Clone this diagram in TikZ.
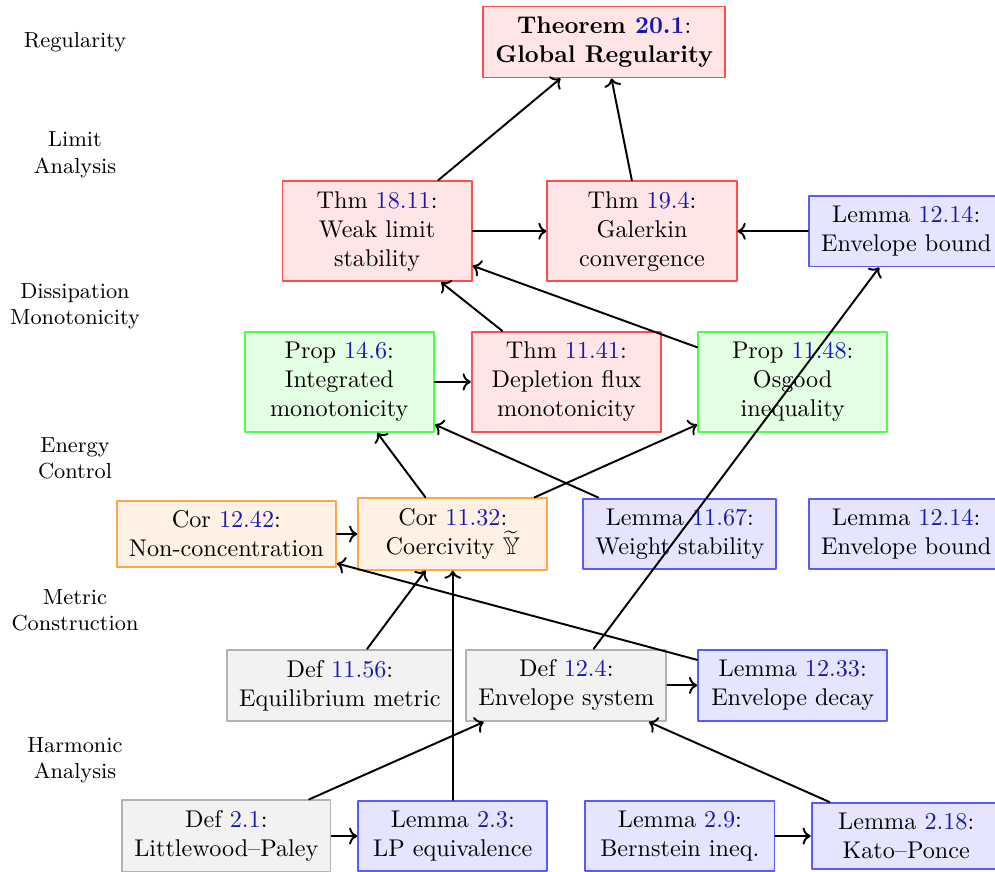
\documentclass[tikz,border=0pt]{standalone}
\usepackage{amsmath,amssymb}
\usepackage{xcolor}
\usepackage{tikz}
\usetikzlibrary{arrows.meta,positioning}
\definecolor{linkblue}{rgb}{0.1,0.1,0.7}
\newcommand{\refnum}[1]{\textcolor{linkblue}{#1}}
\tikzset{
    every picture/.style={line cap=round,line join=round},
    resbox/.style={rectangle,thick,minimum width=2.75cm,inner xsep=5pt,inner ysep=4.2pt,
      align=center,font=\normalsize},
    thmbox/.style={resbox,draw=red!70,fill=red!10},
    propbox/.style={resbox,draw=green!70,fill=green!10},
    corbox/.style={resbox,draw=orange!70,fill=orange!10},
    lembox/.style={resbox,draw=blue!65,fill=blue!10},
    defbox/.style={resbox,draw=gray!60,fill=gray!10},
    layerlabel/.style={font=\small,align=center},
    depedge/.style={->,thick,draw=black}
}

\begin{document}
\begin{tikzpicture}
  \useasboundingbox (0,0) rectangle (14.46,-12.66);
  % layer labels
  \foreach \y/\t in {-0.61/Regularity,-2.25/{Limit\\Analysis},-4.45/{Dissipation\\Monotonicity},
      -6.66/{Energy\\Control},-8.87/{Metric\\Construction},-11.05/{Harmonic\\Analysis}} {
    \node[layerlabel] at (1.09,\y) {\t};
  }
  % regularity
  \node[thmbox] (t201) at (8.78,-0.61) {\textbf{Theorem \refnum{20.1}}:\\\textbf{Global Regularity}};
  % limit analysis
  \node[thmbox] (t1811) at (5.48,-3.36) {Thm \refnum{18.11}:\\Weak limit\\stability};
  \node[thmbox] (t194) at (9.33,-3.36) {Thm \refnum{19.4}:\\Galerkin\\convergence};
  \node[lembox] (l1214a) at (13.17,-3.36) {Lemma \refnum{12.14}:\\Envelope bound};
  % dissipation / monotonicity
  \node[propbox] (p146) at (4.93,-5.55) {Prop \refnum{14.6}:\\Integrated\\monotonicity};
  \node[thmbox] (t1141) at (8.23,-5.55) {Thm \refnum{11.41}:\\Depletion flux\\monotonicity};
  \node[propbox] (p1148) at (11.52,-5.55) {Prop \refnum{11.48}:\\Osgood\\inequality};
  % energy control
  \node[corbox] (c1242) at (3.29,-7.76) {Cor \refnum{12.42}:\\Non-concentration};
  \node[corbox] (c1132) at (6.58,-7.76) {Cor \refnum{11.32}:\\Coercivity $\widetilde{\mathbb{Y}}$};
  \node[lembox] (l1167) at (9.88,-7.76) {Lemma \refnum{11.67}:\\Weight stability};
  \node[lembox] (l1214b) at (13.17,-7.76) {Lemma \refnum{12.14}:\\Envelope bound};
  % metric construction
  \node[defbox] (d1156) at (4.94,-9.96) {Def \refnum{11.56}:\\Equilibrium metric};
  \node[defbox] (d124) at (8.23,-9.96) {Def \refnum{12.4}:\\Envelope system};
  \node[lembox] (l1233) at (11.52,-9.96) {Lemma \refnum{12.33}:\\Envelope decay};
  % harmonic analysis
  \node[defbox] (d21) at (3.29,-12.15) {Def \refnum{2.1}:\\Littlewood--Paley};
  \node[lembox] (l23) at (6.58,-12.15) {Lemma \refnum{2.3}:\\LP equivalence};
  \node[lembox] (l29) at (9.88,-12.15) {Lemma \refnum{2.9}:\\Bernstein ineq.};
  \node[lembox] (l218) at (13.17,-12.15) {Lemma \refnum{2.18}:\\Kato--Ponce};
  % dependencies
  \foreach \a/\b in {t1811/t201,t194/t201,t1811/t194,l1214a/t194,t1141/t1811,p1148/t1811,
      p146/t1141,c1132/p146,l1167/p146,c1132/p1148,d124/l1214a,c1242/c1132,l1233/c1242,
      d1156/c1132,d124/l1233,d21/d124,d21/l23,l29/l218,l218/d124} {
    \draw[depedge] (\a) -- (\b);
  }
  \draw[depedge] (l23.north) -- (l23.north |- c1132.south);
\end{tikzpicture}
\end{document}
